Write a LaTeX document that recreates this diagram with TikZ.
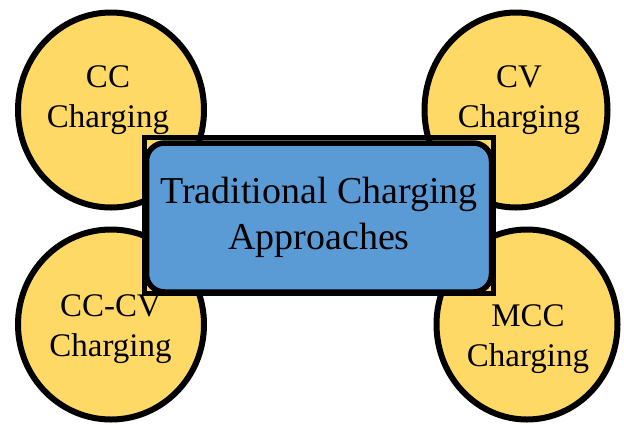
\documentclass[tikz,border=0pt]{standalone}
\usepackage{fontspec}
\setmainfont{Liberation Serif}
\usetikzlibrary{shapes.geometric}
\definecolor{blobyellow}{HTML}{FFD966}
\definecolor{hubblue}{HTML}{5B9BD5}
\tikzset{
  blob/.style={ellipse, draw=black, fill=blobyellow, line width=6pt, inner sep=0pt},
  blobtext/.style={inner sep=0pt, align=center, font=\fontsize{33}{40}\selectfont},
  hubframe/.style={rectangle, draw=black, line width=5.5pt, inner sep=0pt},
  hubbox/.style={rectangle, rounded corners=18pt, draw=black, fill=hubblue, line width=5.5pt,
    inner sep=0pt, align=center, font=\fontsize{38}{46}\selectfont},
}
\begin{document}
\begin{tikzpicture}[x=1pt, y=-1pt]
\useasboundingbox (0,0) rectangle (624,424);
% satellites
\node[blob, minimum width=186pt, minimum height=195pt] (cc) at (111,110) {};
\node[blob, minimum width=183pt, minimum height=195pt] (cv) at (516,110) {};
\node[blob, minimum width=186pt, minimum height=190pt] (cccv) at (111,324.5) {};
\node[blob, minimum width=181pt, minimum height=190pt] (mcc) at (527,324.5) {};
\node[blobtext] (cctext) at (108,100.5) {CC\\Charging};
\node[blobtext] (cvtext) at (519,100.5) {CV\\Charging};
\node[blobtext] (cccvtext) at (110.5,329.5) {CC-CV\\Charging};
\node[blobtext] (mcctext) at (528,339.5) {MCC\\Charging};
% hub
\node[hubframe, minimum width=349pt, minimum height=156pt] (frame) at (319,215.5) {};
\node[hubbox, minimum width=345pt, minimum height=149pt] (hub) at (319,217.5) {Traditional Charging\\Approaches};
\end{tikzpicture}
\end{document}
